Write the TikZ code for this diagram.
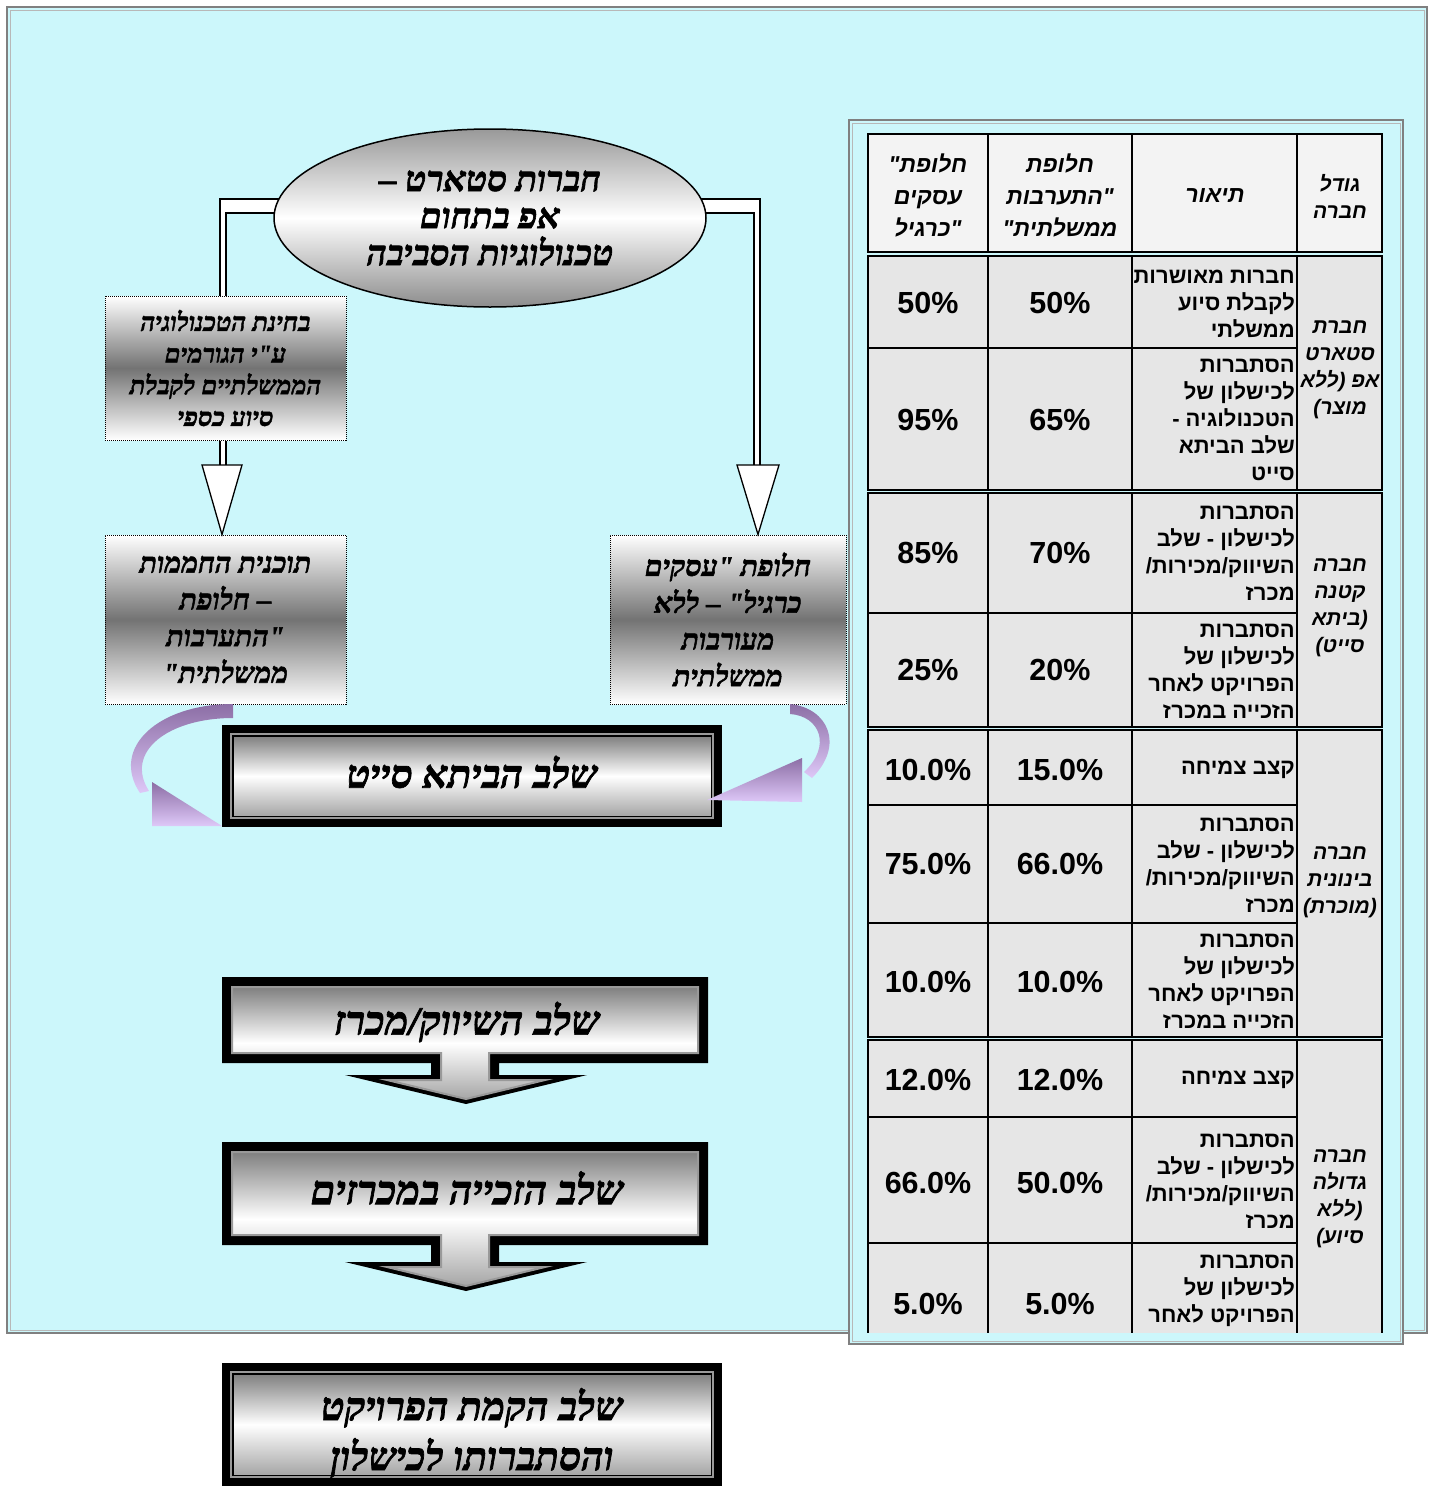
\documentclass[tikz,border=0pt]{standalone}
\usepackage{fontspec}
\usetikzlibrary{shapes.geometric}
\newfontfamily\hebflow[Script=Hebrew, BoldItalicFeatures={FakeBold=1.8}]{Liberation Serif}
\newfontfamily\hebtab[Script=Hebrew]{Liberation Sans}
\TeXXeTstate=1
\newcommand\HR[1]{\beginR #1\endR}
\newcommand\qq{\mbox{"}}
\definecolor{bgcyan}{RGB}{204,247,251}
\definecolor{purpdark}{RGB}{140,110,165}
\definecolor{purplight}{RGB}{222,200,248}
\definecolor{cellgray}{RGB}{230,230,230}
\definecolor{headgray}{RGB}{243,243,243}
\tikzset{
 ftxt/.style 2 args={font=\hebflow\bfseries\itshape\fontsize{#1}{#2}\selectfont, align=center, inner sep=0pt, text=black},
 ttxt/.style 2 args={font=\hebtab\bfseries\fontsize{#1}{#2}\selectfont, inner sep=0pt},
 thead/.style 2 args={font=\hebtab\bfseries\itshape\fontsize{#1}{#2}\selectfont, align=center, inner sep=0pt},
 num/.style={font=\hebtab\bfseries\fontsize{30.5}{36}\selectfont, inner sep=0pt},
 desc/.style={ttxt={22}{27}, align=right, anchor=east},
 greybox/.style={draw=black, densely dotted, line width=1, top color=white, bottom color=white, middle color=black!55},
 purple/.style={top color=purpdark, bottom color=purplight},
 blockarrow/.style={fill=white, draw=black, line width=1.3, line join=miter},
 frameouter/.style={draw=black!50, line width=2.5},
 frameinner/.style={draw=black!28, line width=1},
 stageshade/.style={top color=black!50, bottom color=black!35, middle color=white},
}
\begin{document}
\begin{tikzpicture}[x=1pt,y=-1pt]
\useasboundingbox (0,0) rectangle (1430,1486);
\fill[white] (0,0) rectangle (1430,1486);
% main background
\fill[bgcyan] (6,6) rectangle (1428,1334);
\draw[frameouter] (7,7) rectangle (1427,1333);
\draw[frameinner] (10,10) rectangle (1424,1330);

% ---------- table frame ----------
\fill[bgcyan] (848,119) rectangle (1404,1345);
\draw[frameouter] (849,120) rectangle (1403,1344);
\draw[frameinner] (852,123) rectangle (1400,1341);

\begin{scope}
\clip (855,126) rectangle (1398,1332);
\filldraw[fill=headgray, draw=black, line width=2] (868,134) rectangle (1382,252);
\foreach \x in {988,1132,1297} \draw[line width=2.5] (\x,134) -- (\x,252);
\foreach \ya/\yb in {256/490, 493/727, 730/1037, 1040/1380} {
  \filldraw[fill=cellgray, draw=black, line width=2] (868,\ya) rectangle (1382,\yb);
  \foreach \x in {988,1132,1297} \draw[line width=2.5] (\x,\ya) -- (\x,\yb);
}
\foreach \y in {348,613,805,923,1117,1243} \draw[line width=2] (868,\y) -- (1297,\y);

% header
\node[thead={23}{32}] (h1) at (928,195) {\HR{חלופת\qq}\\\HR{עסקים}\\\HR{\qq כרגיל}};
\node[thead={23}{32}] (h2) at (1060,195) {\HR{חלופת}\\\HR{\qq התערבות}\\\HR{ממשלתית\qq}};
\node[thead={23}{32}] (h3) at (1215,196) {\HR{תיאור}};
\node[thead={21}{27}] (h4) at (1340,196) {\HR{גודל}\\\HR{חברה}};

% group labels
\node[thead={21}{27}] (g1) at (1340,370) {\HR{חברת}\\\HR{סטארט}\\\HR{אפ \mbox{(}ללא}\\\HR{מוצר\mbox{)}}};
\node[thead={21}{27}] (g2) at (1340,608) {\HR{חברה}\\\HR{קטנה}\\\HR{\mbox{(}ביתא}\\\HR{סייט\mbox{)}}};
\node[thead={21}{27}] (g3) at (1340,882) {\HR{חברה}\\\HR{בינונית}\\\HR{\mbox{(}מוכרת\mbox{)}}};
\node[thead={21}{27}] (g4) at (1340,1199) {\HR{חברה}\\\HR{גדולה}\\\HR{\mbox{(}ללא}\\\HR{סיוע\mbox{)}}};

% descriptions
\node[desc] (d1) at (1295,304) {\HR{חברות מאושרות}\\\HR{לקבלת סיוע}\\\HR{ממשלתי}};
\node[desc] (d2) at (1295,419.5) {\HR{הסתברות}\\\HR{לכישלון של}\\\HR{הטכנולוגיה -}\\\HR{שלב הביתא}\\\HR{סייט}};
\node[desc] (d3) at (1295,553.5) {\HR{הסתברות}\\\HR{לכישלון - שלב}\\\HR{השיווק/מכירות\mbox{/}}\\\HR{מכרז}};
\node[desc] (d4) at (1295,671) {\HR{הסתברות}\\\HR{לכישלון של}\\\HR{הפרויקט לאחר}\\\HR{הזכייה במכרז}};
\node[desc] (d5) at (1295,770) {\HR{קצב צמיחה}};
\node[desc] (d6) at (1295,865.5) {\HR{הסתברות}\\\HR{לכישלון - שלב}\\\HR{השיווק/מכירות\mbox{/}}\\\HR{מכרז}};
\node[desc] (d7) at (1295,981) {\HR{הסתברות}\\\HR{לכישלון של}\\\HR{הפרויקט לאחר}\\\HR{הזכייה במכרז}};
\node[desc] (d8) at (1295,1080) {\HR{קצב צמיחה}};
\node[desc] (d9) at (1295,1181.5) {\HR{הסתברות}\\\HR{לכישלון - שלב}\\\HR{השיווק/מכירות\mbox{/}}\\\HR{מכרז}};
\node[desc] (d10) at (1295,1302) {\HR{הסתברות}\\\HR{לכישלון של}\\\HR{הפרויקט לאחר}\\\HR{הזכייה במכרז}};

% numbers
\foreach \y/\a/\b [count=\i] in {303/50\%/50\%, 420/95\%/65\%, 553/85\%/70\%, 670/25\%/20\%, 770/10.0\%/15.0\%, 864/75.0\%/66.0\%, 982/10.0\%/10.0\%, 1080/12.0\%/12.0\%, 1183/66.0\%/50.0\%, 1304/5.0\%/5.0\%} {
  \node[num] (na\i) at (928,\y) {\a};
  \node[num] (nb\i) at (1060,\y) {\b};
}
\end{scope}

% ---------- connectors from the ellipse ----------
\draw[blockarrow] (300,199) -- (220,199) -- (220,466) -- (226,466) -- (226,213) -- (300,213);
\draw[blockarrow] (680,199) -- (760,199) -- (760,466) -- (754,466) -- (754,213) -- (680,213);

% ellipse
\node[ellipse, draw=black, line width=1.5, minimum width=432, minimum height=178,
      top color=black!40, bottom color=black!45, middle color=white, ftxt={35}{37}] (start) at (490,218)
  {\HR{חברות סטארט –}\\\HR{אפ בתחום}\\\HR{טכנולוגיות הסביבה}};

% boxes
\node[greybox, ftxt={25.5}{31.7}, minimum width=241, minimum height=144] (b1) at (225.5,368)
  {\HR{בחינת הטכנולוגיה}\\\HR{ע"י הגורמים}\\\HR{הממשלתיים לקבלת}\\\HR{סיוע כספי}};
\node[greybox, ftxt={28.5}{36.7}, minimum width=241, minimum height=169] (b2) at (225.5,619.5)
  {\HR{תוכנית החממות}\\\HR{– חלופת}\\\HR{\qq התערבות}\\\HR{ממשלתית\qq}};
\node[greybox, ftxt={28.5}{36.7}, minimum width=236, minimum height=169] (b3) at (728,619.5)
  {\HR{חלופת \qq עסקים}\\\HR{כרגיל\qq{} – ללא}\\\HR{מעורבות}\\\HR{ממשלתית}};

% arrow heads
\draw[blockarrow] (202,465) -- (242,465) -- (b2.north -| 222,0) -- cycle;
\draw[blockarrow] (737,465) -- (779,465) -- (b3.north -| 758,0) -- cycle;

% ---------- stage 1 ----------
\fill[black] (222,725) rectangle (722,827);
\draw[black!40, line width=2] (231,734) rectangle (713,818);
\shade[stageshade] (233,736) rectangle (711,816);
\draw[black, line width=1] (233,736) rectangle (711,816);
\node[ftxt={39}{44}] (s1) at (472,772) {\HR{שלב הביתא סייט}};

% purple curved arrows
\shade[purple] (233,704) .. controls (158,704) and (110,748) .. (140,793) -- (149,791) .. controls (124,752) and (168,718) .. (233,718) -- cycle;
\shade[purple] (152,782) -- (222,826) -- (152,826) -- cycle;
\shade[purple] (790,704) .. controls (828,708) and (845,745) .. (812,778) -- (804,772) .. controls (832,746) and (820,716) .. (790,714) -- cycle;
\shade[purple] (802,758) -- (802,802) -- (707,800) -- cycle;

% ---------- stage 2 ----------
\fill[black] (222,977) -- (708,977) -- (708,1063) -- (499,1063) -- (499,1075) -- (587,1075) -- (466,1104) -- (345,1075) -- (431,1075) -- (431,1063) -- (222,1063) -- cycle;
\shade[stageshade] (232,987) -- (698,987) -- (698,1053) -- (489,1053) -- (489,1080) -- (545,1080) -- (466,1099) -- (387,1080) -- (441,1080) -- (441,1053) -- (232,1053) -- cycle;
\draw[black!40, line width=2] (232,987) -- (698,987) -- (698,1053) -- (489,1053) -- (489,1080) -- (545,1080) -- (466,1099) -- (387,1080) -- (441,1080) -- (441,1053) -- (232,1053) -- cycle;
\node[ftxt={40}{44}] (s2) at (467,1022) {\HR{שלב השיווק/מכרז}};

% ---------- stage 3 ----------
\fill[black] (222,1142) -- (708,1142) -- (708,1245) -- (499,1245) -- (499,1262) -- (587,1262) -- (466,1291) -- (345,1262) -- (431,1262) -- (431,1245) -- (222,1245) -- cycle;
\shade[stageshade] (232,1152) -- (698,1152) -- (698,1235) -- (489,1235) -- (489,1267) -- (545,1267) -- (466,1286) -- (387,1267) -- (441,1267) -- (441,1235) -- (232,1235) -- cycle;
\draw[black!40, line width=2] (232,1152) -- (698,1152) -- (698,1235) -- (489,1235) -- (489,1267) -- (545,1267) -- (466,1286) -- (387,1267) -- (441,1267) -- (441,1235) -- (232,1235) -- cycle;
\node[ftxt={40}{44}] (s3) at (467,1188) {\HR{שלב הזכייה במכרזים}};

% ---------- stage 4 ----------
\fill[black] (222,1363) rectangle (722,1486);
\draw[black!40, line width=2] (231,1372) rectangle (713,1477);
\shade[stageshade] (233,1374) rectangle (711,1475);
\draw[black, line width=1] (233,1374) rectangle (711,1475);
\node[ftxt={39}{50}] (s4) at (472,1433) {\HR{שלב הקמת הפרויקט}\\\HR{והסתברותו לכישלון}};
\end{tikzpicture}
\end{document}
